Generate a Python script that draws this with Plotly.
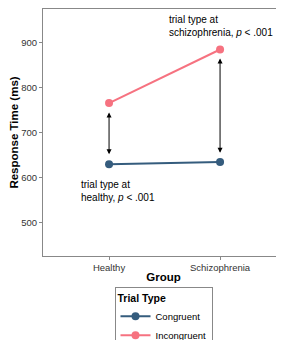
import plotly.graph_objects as go

groups = ["Healthy", "Schizophrenia"]
congruent = [630, 635]
incongruent = [766, 885]
arrow_top = [745, 865]
arrow_bottom = [649, 652]

FONT = "Liberation Sans, Arial, sans-serif"
xpos = [1, 2]

fig = go.Figure()
fig.add_trace(go.Scatter(x=xpos, y=congruent, mode="lines+markers", name="Congruent",
                         line=dict(color="#355C7D", width=2), marker=dict(size=8, color="#355C7D")))
fig.add_trace(go.Scatter(x=xpos, y=incongruent, mode="lines+markers", name="Incongruent",
                         line=dict(color="#F67280", width=2), marker=dict(size=8, color="#F67280")))

for xi, t, b in zip(xpos, arrow_top, arrow_bottom):
    fig.add_annotation(x=xi, y=t, ax=xi, ay=b, xref="x", yref="y", axref="x", ayref="y",
                       text="", showarrow=True, arrowhead=2, startarrowhead=2, arrowside="end+start",
                       arrowsize=1, arrowwidth=1, arrowcolor="black")

fig.add_annotation(x=1.52, y=938, xref="x", yref="y", text="trial type at<br>schizophrenia, <i>p</i> < .001",
                   showarrow=False, xanchor="left", yanchor="middle", align="left",
                   font=dict(family=FONT, size=10, color="black"))
fig.add_annotation(x=0.73, y=570, xref="x", yref="y", text="trial type at<br>healthy, <i>p</i> < .001",
                   showarrow=False, xanchor="left", yanchor="middle", align="left",
                   font=dict(family=FONT, size=10, color="black"))

fig.update_layout(
    width=276, height=332,
    margin=dict(l=35, r=0, t=1, b=84, autoexpand=False),
    plot_bgcolor="white", paper_bgcolor="white",
    font=dict(family=FONT, color="black"),
    xaxis=dict(range=[0.405, 2.576], tickvals=xpos, ticktext=groups, showgrid=False, zeroline=False,
               automargin=False,
               showline=True, linecolor="#888888", linewidth=1, mirror=True,
               ticks="outside", ticklen=3, tickcolor="#888888",
               tickfont=dict(size=9.5, color="#333333", family=FONT),
               title=dict(text="<b>Group</b>", font=dict(size=11.5, family=FONT), standoff=0)),
    yaxis=dict(range=[426, 975], tickvals=[500, 600, 700, 800, 900], showgrid=False, zeroline=False,
               automargin=False,
               showline=True, linecolor="#888888", linewidth=1, mirror=True,
               ticks="outside", ticklen=3, tickcolor="#888888",
               tickfont=dict(size=9.5, color="#333333", family=FONT),
               title=dict(text="<b>Response Time (ms)</b>", font=dict(size=11.5, family=FONT), standoff=3)),
    legend=dict(title=dict(text="<b>Trial Type</b>", font=dict(size=10.5, family=FONT)),
                font=dict(size=9.5, family=FONT), itemwidth=30,
                x=0.5, xanchor="center", y=-0.1255, yanchor="top",
                bordercolor="#888888", borderwidth=1, bgcolor="white", tracegroupgap=0),
    showlegend=True,
)

fig.write_html("out.html")
